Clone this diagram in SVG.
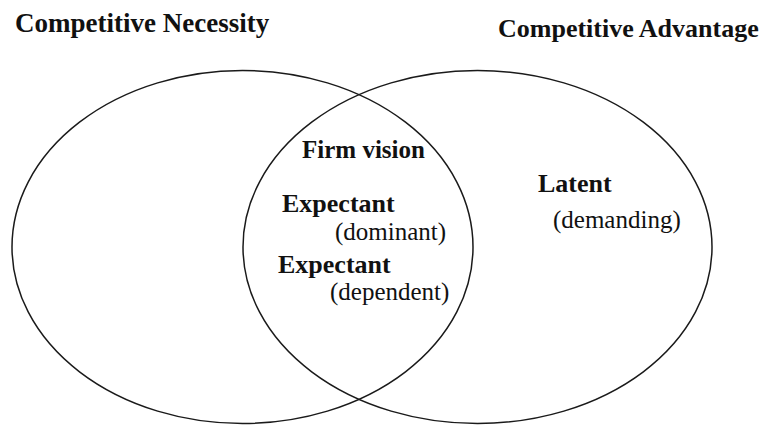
<svg xmlns="http://www.w3.org/2000/svg" width="765" height="426" viewBox="0 0 765 426">
<style>
.set{fill:none;stroke:#1a1a1a;stroke-width:1.5}
.b{font-family:"Liberation Serif","Times New Roman",serif;font-weight:bold;font-size:26px;fill:#111}
.r{font-family:"Liberation Serif","Times New Roman",serif;font-size:25px;fill:#111}
</style>
<rect width="765" height="426" fill="#fff"/>
<g id="necessity">
<ellipse class="set" cx="242.5" cy="247" rx="230.5" ry="176.5"/>
<text class="b" x="15" y="32" style="font-size:27px">Competitive Necessity</text>
</g>
<g id="advantage">
<ellipse class="set" cx="477.5" cy="247" rx="234.5" ry="176.5"/>
<text class="b" x="498" y="37">Competitive Advantage</text>
</g>
<g id="overlap">
<text class="b" x="302" y="158" style="font-size:25px">Firm vision</text>
<text class="b" x="282" y="212">Expectant</text>
<text class="r" x="335" y="240">(dominant)</text>
<text class="b" x="278" y="273">Expectant</text>
<text class="r" x="330" y="300">(dependent)</text>
</g>
<g id="latent">
<text class="b" x="538" y="192">Latent</text>
<text class="r" x="553" y="228">(demanding)</text>
</g>
<g id="connectors"></g>
</svg>
